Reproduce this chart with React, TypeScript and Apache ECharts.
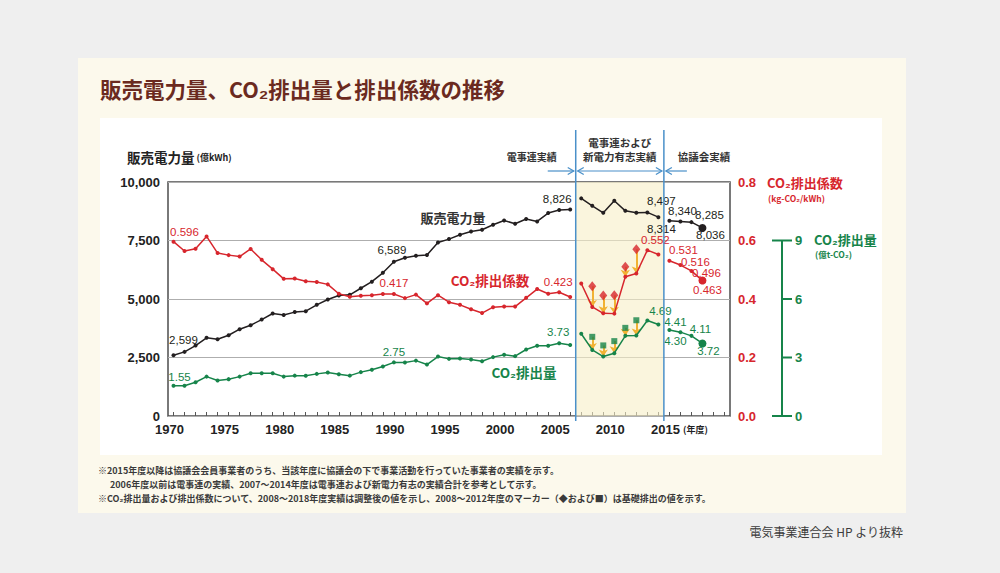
import React, { useEffect, useRef } from "react";
import * as echarts from "echarts";

// ---------- DATA ----------
const categories = Array.from({ length: 51 }, (_, i) => String(1970 + i)); // 1970..2020

// 販売電力量 (億kWh)
const salesA = [2599, 2740, 3010, 3340, 3280, 3450, 3710, 3880, 4120, 4380, 4320, 4440, 4480, 4750, 4980, 5150, 5180, 5460, 5740, 6120, 6589, 6760, 6846, 6880, 7416, 7560, 7745, 7887, 7960, 8173, 8357, 8216, 8417, 8314, 8673, 8800, 8826]; // 1970-2006
const salesB = [9300, 8983, 8683, 9198, 8768, 8683, 8700, 8497]; // 2007-2014
const salesC = [8340, 8314, 8285, 8036]; // 2015-2018

// CO2排出係数 (kg-CO2/kWh)
const factorA = [0.596, 0.564, 0.572, 0.614, 0.557, 0.55, 0.545, 0.571, 0.534, 0.502, 0.469, 0.47, 0.461, 0.458, 0.45, 0.418, 0.408, 0.411, 0.413, 0.417, 0.417, 0.403, 0.415, 0.385, 0.413, 0.389, 0.38, 0.365, 0.352, 0.372, 0.374, 0.374, 0.404, 0.434, 0.418, 0.423, 0.407];
const factorB = [0.453, 0.373, 0.351, 0.35, 0.476, 0.487, 0.567, 0.552];
const factorC = [0.531, 0.516, 0.496, 0.463];
const factorBase = [0.444, 0.412, 0.413, 0.51, 0.57]; // 2008-2012 基礎排出

// CO2排出量 (億t-CO2)
const emisA = [1.55, 1.55, 1.73, 2.02, 1.82, 1.89, 2.02, 2.19, 2.19, 2.19, 2.02, 2.07, 2.06, 2.16, 2.23, 2.14, 2.07, 2.25, 2.37, 2.54, 2.75, 2.74, 2.84, 2.64, 3.05, 2.93, 2.95, 2.9, 2.81, 3.02, 3.14, 3.07, 3.41, 3.6, 3.6, 3.73, 3.64];
const emisB = [4.22, 3.39, 3.05, 3.22, 4.11, 4.13, 4.9, 4.69];
const emisC = [4.41, 4.3, 4.11, 3.72];
const emisBase = [4.06, 3.62, 3.84, 4.52, 4.91];

const startA = 1970;
const startB = 2007;
const startC = 2015;
const startBase = 2008;

const greenTicks = [0, 3, 6, 9];

// ---------- LAYOUT / STYLE ----------
const BLACK = "#231f20";
const RED = "#d7262d";
const GREEN = "#16844a";
const BLUE = "#4a90c9";
const YELLOW = "#f1b233";
const NUM = "'Liberation Sans', Arial, sans-serif";
const JP = "'Noto Sans CJK JP', sans-serif";

const GRID = { left: 168, right: 270, top: 182, bottom: 157 };
const GREEN_OFFSET = 52;

// label offsets (label centre relative to point)
const salesLabelPos: Record<number, [number, number]> = {
  1970: [10, -15], 1990: [-2, -12], 2006: [-13, -10], 2014: [3, -16],
  2015: [13, -10], 2016: [-19, 8], 2017: [18, -7], 2018: [8, 7],
};
const factorLabelPos: Record<number, [number, number]> = {
  1970: [11, -10], 1990: [0, -11], 2005: [-1, -10], 2014: [-3, -15],
  2015: [14, -11], 2016: [15, -3], 2017: [15, 2], 2018: [5, 9],
};
const emisLabelPos: Record<number, [number, number]> = {
  1970: [6, -9], 1990: [0, -10], 2005: [-1, -11], 2014: [2, -14],
  2015: [6, -8], 2016: [-5, 9], 2017: [9, -7], 2018: [6, 8],
};
const bigPointYear = 2018;

const fmtSales = (v: number) => v.toLocaleString("en-US");
const fmtFactor = (v: number) => v.toFixed(3);
const fmtEmis = (v: number) => v.toFixed(2);

function buildData(start: number, values: number[], pos: Record<number, [number, number]>, fmt: (v: number) => string, color: string) {
  return values.map((v, i) => {
    const yr = start + i;
    const item: any = { value: [yr - 1970, v] };
    if (yr === bigPointYear) item.symbolSize = 8;
    const p = pos[yr];
    if (p) {
      item.label = {
        show: true,
        position: "inside",
        offset: p,
        formatter: fmt(v),
        color,
        fontFamily: NUM,
        fontSize: 11.5,
        fontWeight: "normal",
        lineHeight: 12,
      };
    }
    return item;
  });
}

function lineSeries(data: any[], yAxisIndex: number, color: string) {
  return {
    type: "line",
    xAxisIndex: 0,
    yAxisIndex,
    data,
    symbol: "circle",
    symbolSize: 4,
    showSymbol: true,
    showAllSymbol: true,
    lineStyle: { color, width: 1.5 },
    itemStyle: { color },
    label: { show: false },
    emphasis: { disabled: true },
    silent: true,
    z: 4,
  };
}

function baseMarkers(values: number[], adjusted: number[], yAxisIndex: number, symbol: string, size: any, color: string) {
  return {
    type: "scatter",
    xAxisIndex: 0,
    yAxisIndex,
    symbol,
    symbolSize: size,
    itemStyle: { color },
    silent: true,
    z: 5,
    data: values.map((v, i) => [startBase + i - 1970, v]),
    markLine: {
      silent: true,
      symbol: ["none", "arrow"],
      symbolSize: 7,
      label: { show: false },
      lineStyle: { color: YELLOW, width: 2, type: "solid" },
      z: 3,
      data: values.map((v, i) => [
        { coord: [startBase + i - 1970, v] },
        { coord: [startBase + i - 1970, adjusted[startBase + i - startB]] },
      ]),
    },
  };
}

const option: any = {
  animation: false,
  grid: { ...GRID, show: true, borderColor: "#4d4d4d", borderWidth: 1.5, backgroundColor: "transparent" },
  xAxis: [
    {
      type: "category",
      data: categories,
      boundaryGap: true,
      axisLine: { show: false },
      axisTick: { show: true, inside: true, length: 4, alignWithLabel: true, interval: 0, lineStyle: { color: "#555", width: 1 } },
      axisLabel: {
        interval: (_: number, val: string) => +val % 5 === 0 && +val <= 2015,
        color: "#222",
        fontFamily: NUM,
        fontSize: 13,
        fontWeight: "bold",
        margin: 7,
        lineHeight: 13,
        padding: [0, 8, 0, 0],
      },
      splitLine: { show: false },
    },
    { type: "value", min: 1969.5, max: 2020.5, show: false },
  ],
  yAxis: [
    {
      type: "value",
      min: 0,
      max: 10000,
      interval: 2500,
      axisLine: { show: false },
      axisTick: { show: false },
      axisLabel: { formatter: (v: number) => v.toLocaleString("en-US"), color: "#222", fontFamily: NUM, fontSize: 13, fontWeight: "bold", margin: 8, lineHeight: 13 },
      splitLine: { show: true, lineStyle: { color: "#aeaeae", width: 1 } },
    },
    {
      type: "value",
      position: "right",
      min: 0,
      max: 0.8,
      interval: 0.2,
      axisLine: { show: false },
      axisTick: { show: false },
      axisLabel: { formatter: (v: number) => v.toFixed(1), color: RED, fontFamily: NUM, fontSize: 13, fontWeight: "bold", margin: 8 },
      splitLine: { show: false },
    },
    {
      type: "value",
      position: "right",
      offset: GREEN_OFFSET,
      min: 0,
      max: 12,
      interval: 3,
      axisLine: { show: false },
      axisTick: { show: false },
      axisLabel: { formatter: (v: number) => (greenTicks.includes(v) ? String(v) : ""), color: GREEN, fontFamily: NUM, fontSize: 13, fontWeight: "bold", margin: 13 },
      splitLine: { show: false },
    },
  ],
  series: [
    {
      type: "line",
      xAxisIndex: 1,
      yAxisIndex: 0,
      data: [[2000, -1000]],
      symbol: "none",
      silent: true,
      lineStyle: { opacity: 0 },
      z: 1,
      markArea: {
        silent: true,
        itemStyle: { color: "rgba(246,238,198,0.6)" },
        data: [[{ xAxis: 2006.5 }, { xAxis: 2014.5 }]],
      },
    },
    lineSeries(buildData(startA, salesA, salesLabelPos, fmtSales, BLACK), 0, BLACK),
    lineSeries(buildData(startB, salesB, salesLabelPos, fmtSales, BLACK), 0, BLACK),
    lineSeries(buildData(startC, salesC, salesLabelPos, fmtSales, BLACK), 0, BLACK),
    lineSeries(buildData(startA, factorA, factorLabelPos, fmtFactor, RED), 1, RED),
    lineSeries(buildData(startB, factorB, factorLabelPos, fmtFactor, RED), 1, RED),
    lineSeries(buildData(startC, factorC, factorLabelPos, fmtFactor, RED), 1, RED),
    lineSeries(buildData(startA, emisA, emisLabelPos, fmtEmis, GREEN), 2, GREEN),
    lineSeries(buildData(startB, emisB, emisLabelPos, fmtEmis, GREEN), 2, GREEN),
    lineSeries(buildData(startC, emisC, emisLabelPos, fmtEmis, GREEN), 2, GREEN),
    baseMarkers(factorBase, factorB, 1, "diamond", [8, 10], RED),
    baseMarkers(emisBase, emisB, 2, "rect", [6, 6], GREEN),
  ],
};

function txt(x: number, y: number, text: string, font: string, fill: string, align = "left", vAlign = "middle") {
  return {
    type: "text",
    x,
    y,
    silent: true,
    z: 20,
    style: { text, font, fill, textAlign: align, textVerticalAlign: vAlign },
  };
}
function seg(x1: number, y1: number, x2: number, y2: number, stroke: string, lineWidth = 1.5) {
  return { type: "line", silent: true, z: 20, shape: { x1, y1, x2, y2 }, style: { stroke, lineWidth } };
}
function head(points: number[][], stroke: string) {
  return { type: "polyline", silent: true, z: 20, shape: { points }, style: { stroke, lineWidth: 1.3, fill: "none" } };
}

function buildGraphic(chart: any) {
  const px = (v: number) => chart.convertToPixel({ xAxisIndex: 1 }, v);
  const gy = (v: number) => chart.convertToPixel({ yAxisIndex: 2 }, v);
  const xl = px(2006.5);
  const xr = px(2014.5);
  const gx = 1000 - GRID.right + GREEN_OFFSET;
  const ay = 171;
  const els: any[] = [];

  // title
  els.push(txt(100, 88, "販売電力量、CO₂排出量と排出係数の推移", `bold 21.5px ${JP}`, "#6b2a20"));

  // left axis title
  els.push({
    type: "text", x: 127, y: 157, silent: true, z: 20,
    style: {
      text: "{a|販売電力量}{b| (億kWh)}",
      textVerticalAlign: "middle",
      rich: {
        a: { font: `bold 13.5px ${JP}`, fill: "#222" },
        b: { font: `bold 9px ${JP}`, fill: "#222" },
      },
    },
  });

  // right axis titles
  els.push(txt(767, 182, "CO₂排出係数", `bold 13px ${JP}`, RED));
  els.push(txt(768, 198, "(kg-CO₂/kWh)", `bold 8.5px ${JP}`, RED));
  els.push(txt(814, 239, "CO₂排出量", `bold 13px ${JP}`, GREEN));
  els.push(txt(815, 254, "(億t-CO₂)", `bold 8.5px ${JP}`, GREEN));

  // green axis line and ticks
  els.push(seg(gx, gy(0), gx, gy(9), GREEN, 2));
  greenTicks.forEach((t) => els.push(seg(gx, gy(t), gx + 10, gy(t), GREEN, 2)));
  [0, 9].forEach((t) => els.push(seg(gx - 10, gy(t), gx, gy(t), GREEN, 2)));

  // vertical dividers
  els.push(seg(xl, 130, xl, 421, BLUE, 1.5));
  els.push(seg(xr, 130, xr, 421, BLUE, 1.5));

  // header labels
  els.push(txt(xl - 44, 156, "電事連実績", `bold 10px ${JP}`, "#333", "center"));
  els.push(txt((xl + xr) / 2, 142, "電事連および", `bold 10.5px ${JP}`, "#333", "center"));
  els.push(txt((xl + xr) / 2, 156, "新電力有志実績", `bold 10.5px ${JP}`, "#333", "center"));
  els.push(txt(xr + 40, 156, "協議会実績", `bold 10.5px ${JP}`, "#333", "center"));

  // header arrows
  els.push(seg(xl - 28, ay, xl - 2, ay, BLUE, 1.2));
  els.push(head([[xl - 8, ay - 3.5], [xl - 2, ay], [xl - 8, ay + 3.5]], BLUE));
  els.push(seg(xl + 2, ay, xr - 2, ay, BLUE, 1.2));
  els.push(head([[xl + 8, ay - 3.5], [xl + 2, ay], [xl + 8, ay + 3.5]], BLUE));
  els.push(head([[xr - 8, ay - 3.5], [xr - 2, ay], [xr - 8, ay + 3.5]], BLUE));
  els.push(seg(xr + 2, ay, xr + 23, ay, BLUE, 1.2));
  els.push(head([[xr + 8, ay - 3.5], [xr + 2, ay], [xr + 8, ay + 3.5]], BLUE));

  // series names
  els.push(txt(453, 217, "販売電力量", `bold 13px ${JP}`, "#333", "center"));
  els.push(txt(490, 280, "CO₂排出係数", `bold 13.5px ${JP}`, RED, "center"));
  els.push(txt(524, 372, "CO₂排出量", `bold 13.5px ${JP}`, GREEN, "center"));

  // x unit
  els.push(txt(683, 429, "(年度)", `bold 9px ${JP}`, "#222"));

  // notes
  els.push(txt(98, 470, "※2015年度以降は協議会会員事業者のうち、当該年度に協議会の下で事業活動を行っていた事業者の実績を示す。", `bold 9px ${JP}`, "#3a3a3a"));
  els.push(txt(110, 484, "2006年度以前は電事連の実績、2007～2014年度は電事連および新電力有志の実績合計を参考として示す。", `bold 9px ${JP}`, "#3a3a3a"));
  els.push(txt(98, 498, "※CO₂排出量および排出係数について、2008～2018年度実績は調整後の値を示し、2008～2012年度のマーカー（◆および■）は基礎排出の値を示す。", `bold 9px ${JP}`, "#3a3a3a"));

  // source
  els.push(txt(903, 531, "電気事業連合会 HP より抜粋", `12px ${JP}`, "#3c3c3c", "right"));

  return els;
}

export default function App() {
  const ref = useRef<HTMLDivElement>(null);
  useEffect(() => {
    if (!ref.current) return;
    const chart = echarts.init(ref.current, null, { renderer: "svg", width: 1000, height: 573 });
    chart.setOption(option);
    chart.setOption({ graphic: buildGraphic(chart) });
    return () => chart.dispose();
  }, []);
  return (
    <div style={{ position: "fixed", left: 0, top: 0, width: 1000, height: 573, background: "#efefef", overflow: "hidden" }}>
      <div style={{ position: "absolute", left: 78, top: 58, width: 828, height: 455, background: "#fcf9ec" }} />
      <div style={{ position: "absolute", left: 100, top: 118, width: 782, height: 337, background: "#ffffff" }} />
      <div ref={ref} style={{ position: "absolute", left: 0, top: 0, width: 1000, height: 573 }} />
    </div>
  );
}
